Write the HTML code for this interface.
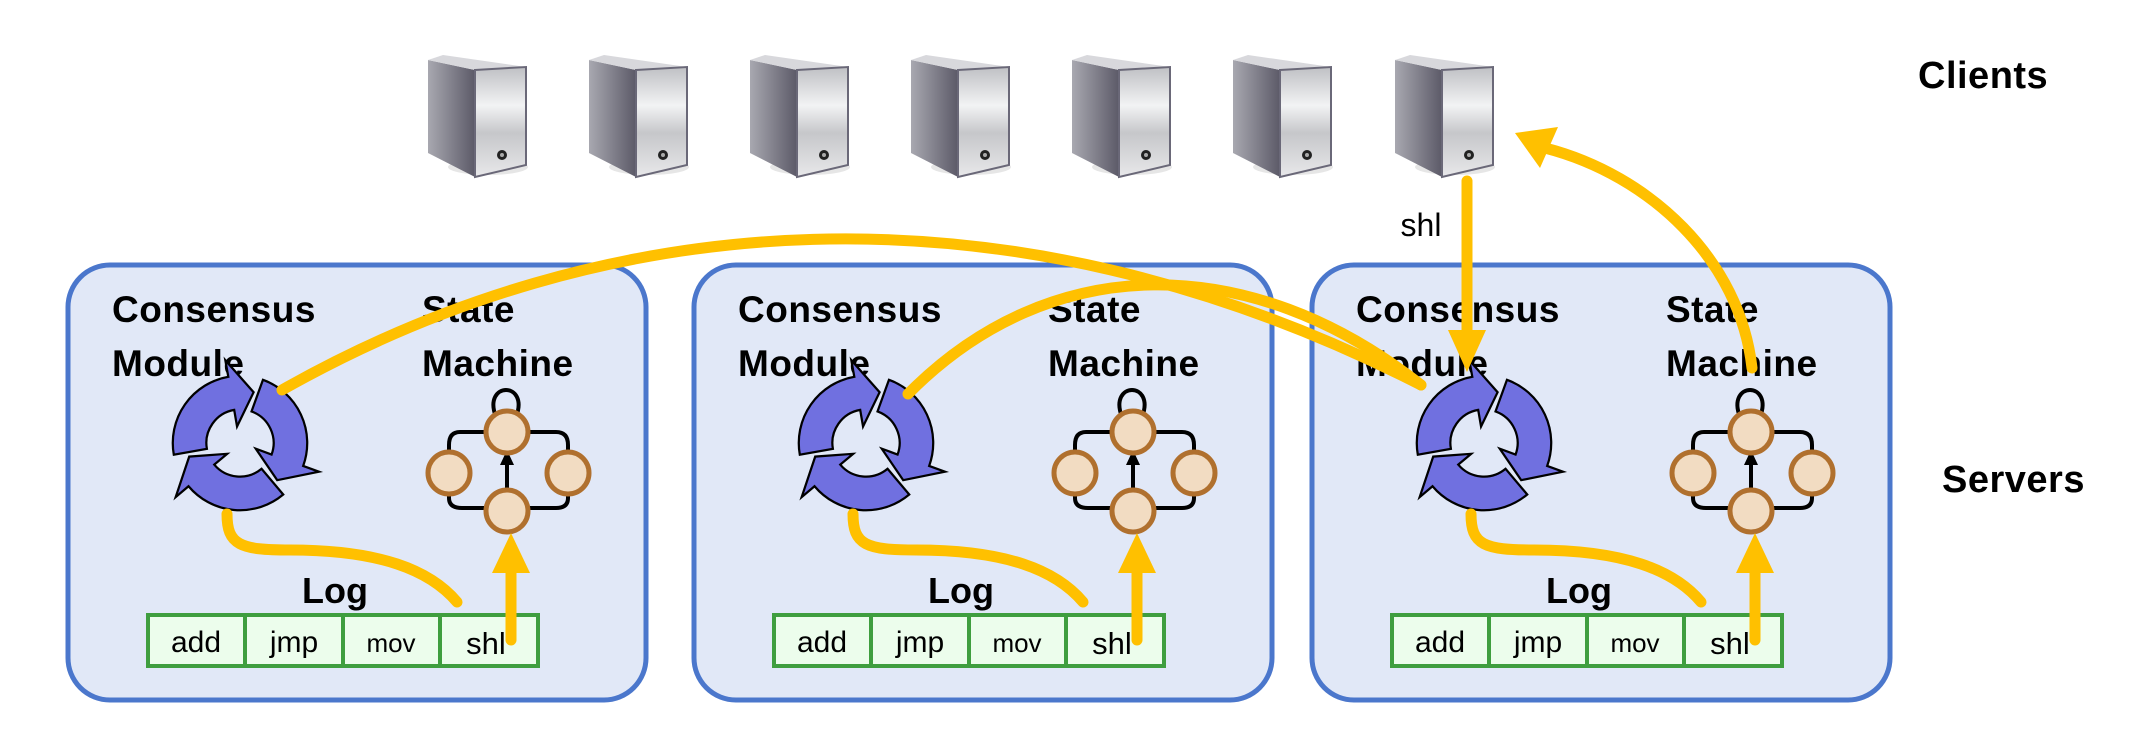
<!DOCTYPE html>
<html><head><meta charset="utf-8"><style>
html,body{margin:0;padding:0;background:#fff}
svg{display:block}
text{font-family:"Liberation Sans",Arial,sans-serif}
</style></head><body>
<svg width="2132" height="748" viewBox="0 0 2132 748" xmlns="http://www.w3.org/2000/svg">
<defs>
<linearGradient id="side" x1="0" x2="1" y1="0" y2="0"><stop offset="0" stop-color="#a8a8b0"/><stop offset="1" stop-color="#5c5a68"/></linearGradient>
<linearGradient id="front" x1="0" x2="0" y1="0" y2="1"><stop offset="0" stop-color="#bfc0c4"/><stop offset="0.35" stop-color="#f2f3f4"/><stop offset="0.6" stop-color="#c6c7ca"/><stop offset="1" stop-color="#e8e8ea"/></linearGradient>
<g id="srv">
<ellipse cx="60" cy="112" rx="40" ry="8" fill="#e6e6e6"/>
<polygon points="0,5 47,15 47,122 0,98" fill="url(#side)"/>
<polygon points="0,5 15,0 98,12 47,15" fill="#d8d8dc"/>
<polygon points="47,15 98,12 98,110 47,122" fill="url(#front)" stroke="#6a6878" stroke-width="2"/>
<circle cx="74" cy="100" r="5" fill="#222"/>
<circle cx="74" cy="100" r="2" fill="#aaa"/>
</g>
<path id="arw" d="M-56.4,-20.5 A60 60 0 0 1 20.5,-56.4 L25.6,-70.5 L33.2,-33.2 L5.1,-14.1 L10.3,-28.2 A30 30 0 0 0 -28.2,-10.3 Z" fill="#7070e0" stroke="#000" stroke-width="2"/>
<g id="box">
<rect x="0" y="0" width="578" height="435" rx="42" fill="#e1e8f7" stroke="#4b77cc" stroke-width="5"/>
<text x="44" y="57" font-size="37" font-weight="bold" letter-spacing="0.5">Consensus</text>
<text x="44" y="111" font-size="37" font-weight="bold" letter-spacing="0.5">Module</text>
<text x="354" y="57" font-size="37" font-weight="bold" letter-spacing="0.5">State</text>
<text x="354" y="111" font-size="37" font-weight="bold" letter-spacing="0.5">Machine</text>
<g transform="translate(172,178) scale(1.12) rotate(-30)">
<use href="#arw"/><use href="#arw" transform="rotate(120)"/><use href="#arw" transform="rotate(240)"/>
</g>
<g stroke="#000" stroke-width="4" fill="none">
<path d="M428,152 C414,116 462,116 448,152"/>
<path d="M418,167 L392,167 Q381,167 381,180 L381,198"/>
<path d="M460,167 L488,167 Q500,167 500,180 L500,198"/>
<path d="M381,217 L381,233 Q381,243 394,243 L418,243"/>
<path d="M500,217 L500,233 Q500,243 488,243 L460,243"/>
<path d="M439,224 L439,195"/>
</g>
<polygon points="439,185 432,200 446,200" fill="#000"/>
<g fill="#f2dcc2" stroke="#b0702e" stroke-width="5">
<ellipse cx="439" cy="167" rx="21" ry="21"/>
<ellipse cx="381" cy="208" rx="21" ry="21"/>
<ellipse cx="500" cy="208" rx="21" ry="21"/>
<ellipse cx="439" cy="246" rx="21" ry="21"/>
</g>
<text x="267" y="338" font-size="36" font-weight="bold" text-anchor="middle">Log</text>
<rect x="80" y="350" width="390" height="51" fill="#ecfdec" stroke="#3f9e3f" stroke-width="4"/>
<line x1="177" y1="350" x2="177" y2="401" stroke="#3f9e3f" stroke-width="4"/>
<line x1="275" y1="350" x2="275" y2="401" stroke="#3f9e3f" stroke-width="4"/>
<line x1="372" y1="350" x2="372" y2="401" stroke="#3f9e3f" stroke-width="4"/>
<text x="128" y="387" font-size="30" text-anchor="middle">add</text>
<text x="226" y="387" font-size="30" text-anchor="middle">jmp</text>
<text x="323" y="387" font-size="26" text-anchor="middle">mov</text>
<text x="418" y="389" font-size="31" text-anchor="middle">shl</text>
<path d="M159,249 C159,280 172,285 222,285 C312,285 362,305 389,337" fill="none" stroke="#ffc000" stroke-width="11" stroke-linecap="round"/>
<line x1="443" y1="375" x2="443" y2="300" stroke="#ffc000" stroke-width="11" stroke-linecap="round"/>
<polygon points="443,268 424,308 462,308" fill="#ffc000"/>
</g>
</defs>

<use href="#srv" x="428" y="55"/>
<use href="#srv" x="589" y="55"/>
<use href="#srv" x="750" y="55"/>
<use href="#srv" x="911" y="55"/>
<use href="#srv" x="1072" y="55"/>
<use href="#srv" x="1233" y="55"/>
<use href="#srv" x="1395" y="55"/>

<text x="1918" y="88" font-size="38" font-weight="bold" letter-spacing="0.5">Clients</text>
<text x="1942" y="492" font-size="38" font-weight="bold" letter-spacing="0.5">Servers</text>

<use href="#box" x="68" y="265"/>
<use href="#box" x="694" y="265"/>
<use href="#box" x="1312" y="265"/>

<g fill="none" stroke="#ffc000" stroke-width="11" stroke-linecap="round">
<path d="M282,390 C600,210 1000,170 1421,385"/>
<path d="M908,394 C1050,250 1250,250 1421,385"/>
<line x1="1467" y1="181" x2="1467" y2="335"/>
<path d="M1752,368 C1740,260 1650,175 1545,148"/>
</g>
<polygon points="1467,372 1448,330 1486,330" fill="#ffc000"/>
<polygon points="1515,133 1558,127 1540,168" fill="#ffc000"/>
<text x="1421" y="236" font-size="32" text-anchor="middle">shl</text>
</svg>
</body></html>
